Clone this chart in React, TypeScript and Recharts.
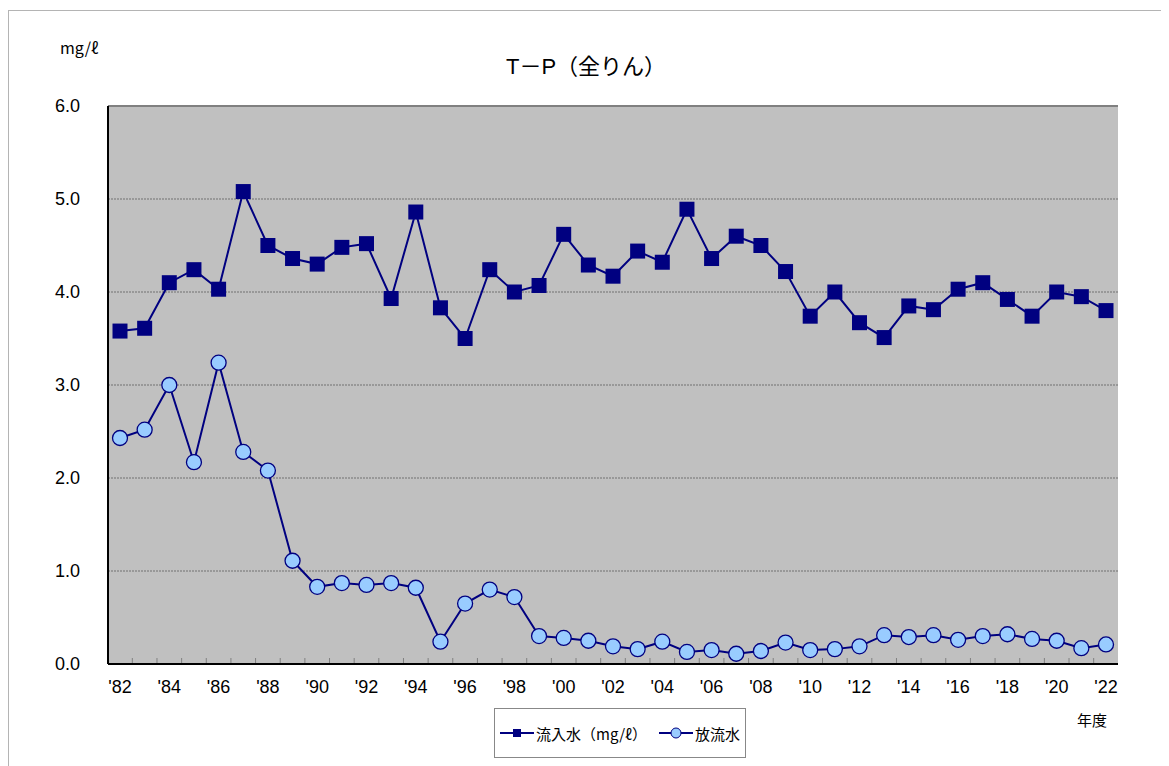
import React from 'react';
import {
  LineChart,
  Line,
  XAxis,
  YAxis,
  CartesianGrid,
  ReferenceLine,
  Legend,
} from 'recharts';

const YEARS = [
  1982, 1983, 1984, 1985, 1986, 1987, 1988, 1989, 1990, 1991, 1992, 1993, 1994,
  1995, 1996, 1997, 1998, 1999, 2000, 2001, 2002, 2003, 2004, 2005, 2006, 2007,
  2008, 2009, 2010, 2011, 2012, 2013, 2014, 2015, 2016, 2017, 2018, 2019, 2020,
  2021, 2022,
];

// 流入水
const INFLOW = [
  3.58, 3.61, 4.1, 4.24, 4.03, 5.08, 4.5, 4.36, 4.3, 4.48, 4.52, 3.93, 4.86,
  3.83, 3.5, 4.24, 4.0, 4.07, 4.62, 4.29, 4.17, 4.44, 4.32, 4.89, 4.36, 4.6,
  4.5, 4.22, 3.74, 4.0, 3.67, 3.51, 3.85, 3.81, 4.03, 4.1, 3.92, 3.74, 4.0,
  3.95, 3.8,
];

// 放流水
const OUTFLOW = [
  2.43, 2.52, 3.0, 2.17, 3.24, 2.28, 2.08, 1.11, 0.83, 0.87, 0.85, 0.87, 0.82,
  0.24, 0.65, 0.8, 0.72, 0.3, 0.28, 0.25, 0.19, 0.16, 0.24, 0.13, 0.15, 0.11,
  0.14, 0.23, 0.15, 0.16, 0.19, 0.31, 0.29, 0.31, 0.26, 0.3, 0.32, 0.27, 0.25,
  0.17, 0.21,
];

const Y_TICKS = [0, 1, 2, 3, 4, 5, 6];

const data = YEARS.map((y, i) => ({
  year: "'" + String(y).slice(2),
  inflow: INFLOW[i],
  outflow: OUTFLOW[i],
}));

const NAVY = '#000080';
const LIGHT = '#99CCFF';
const FONT = "'Liberation Sans', Arial, 'Noto Sans CJK JP', sans-serif";
const JFONT = "'Noto Sans CJK JP', sans-serif";

const W = 1161;
const H = 758;
const PLOT_L = 100;
const PLOT_R = 1110;
const PAD = 12;
const STEP = (PLOT_R - PLOT_L - 2 * PAD) / (YEARS.length - 1);
const LEGEND_H = 51;

const SquareDot = (props: any) => {
  const { cx, cy } = props;
  if (cx == null || cy == null) return null;
  return <rect x={cx - 7.5} y={cy - 7.5} width={15} height={15} fill={NAVY} />;
};

const CircleDot = (props: any) => {
  const { cx, cy } = props;
  if (cx == null || cy == null) return null;
  return <circle cx={cx} cy={cy} r={7.5} fill={LIGHT} stroke={NAVY} strokeWidth={1.3} />;
};

const XTick = (props: any) => {
  const { x, y, payload, index } = props;
  return (
    <g>
      {index < YEARS.length - 1 && (
        <line x1={x + STEP / 2} x2={x + STEP / 2} y1={y - 1} y2={y - 6} stroke="#808080" />
      )}
      {index % 2 === 0 && (
        <text x={x} y={y + 29} textAnchor="middle" fontSize={18} fill="#000" fontFamily={FONT}>
          {payload.value}
        </text>
      )}
    </g>
  );
};

const LegendBox = () => (
  <div
    style={{
      border: '1px solid #888',
      background: '#fff',
      height: 48,
      display: 'flex',
      alignItems: 'center',
      justifyContent: 'center',
      fontFamily: JFONT,
      fontSize: 15,
      color: '#000',
    }}
  >
    <svg width={34} height={14}>
      <line x1={0} x2={34} y1={7} y2={7} stroke={NAVY} strokeWidth={2} />
      <rect x={13} y={3} width={8} height={8} fill={NAVY} />
    </svg>
    <span style={{ marginLeft: 2, marginRight: 12 }}>流入水（mg/ℓ）</span>
    <svg width={34} height={14}>
      <line x1={0} x2={34} y1={7} y2={7} stroke={NAVY} strokeWidth={2} />
      <circle cx={17} cy={7} r={5} fill={LIGHT} stroke={NAVY} strokeWidth={1} />
    </svg>
    <span style={{ marginLeft: 2 }}>放流水</span>
  </div>
);

export default function App() {
  return (
    <div style={{ position: 'relative', width: W, height: H, fontFamily: FONT }}>
      <div
        style={{
          position: 'absolute',
          left: 0,
          top: 2,
          width: W + 20,
          height: H + 20,
          borderTop: '1px solid #B4B4B4',
          borderLeft: '1px solid #B4B4B4',
        }}
      />
      <div style={{ position: 'absolute', left: 52, top: 27, fontSize: 16, fontFamily: JFONT }}>
        mg/ℓ
      </div>
      <div
        style={{
          position: 'absolute',
          left: 428,
          width: 300,
          top: 46,
          textAlign: 'center',
          fontSize: 22,
          lineHeight: '26px',
          fontFamily: FONT,
        }}
      >
        T－P（全りん）
      </div>
      <div style={{ position: 'absolute', left: 1069, top: 703, fontSize: 15, lineHeight: '18px', fontFamily: JFONT }}>
        年度
      </div>
      <LineChart
        width={W}
        height={H}
        data={data}
        margin={{ top: 98, right: W - PLOT_R, bottom: 73 - LEGEND_H, left: PLOT_L - 60 }}
      >
        <CartesianGrid fill="#C0C0C0" vertical={false} stroke="#707070" strokeDasharray="2 1" />
        <XAxis
          dataKey="year"
          interval={0}
          tick={<XTick />}
          tickLine={false}
          tickSize={0}
          tickMargin={0}
          height={30}
          padding={{ left: PAD, right: PAD }}
          axisLine={{ stroke: '#000', strokeWidth: 2 }}
        />
        <YAxis
          domain={[0, 6]}
          ticks={Y_TICKS}
          width={60}
          tickLine={false}
          tickMargin={22}
          tickFormatter={(v: number) => v.toFixed(1)}
          tick={{ fontSize: 18, fill: '#000', fontFamily: FONT }}
          axisLine={{ stroke: '#000', strokeWidth: 2 }}
        />
        <YAxis
          yAxisId="r"
          orientation="right"
          domain={[0, 6]}
          width={0}
          tick={false}
          tickLine={false}
          axisLine={{ stroke: '#808080', strokeWidth: 2 }}
        />
        <ReferenceLine y={6} stroke="#808080" strokeWidth={2} />
        <Line
          dataKey="inflow"
          name="流入水（mg/ℓ）"
          stroke={NAVY}
          strokeWidth={2}
          dot={<SquareDot />}
          activeDot={false}
          isAnimationActive={false}
        />
        <Line
          dataKey="outflow"
          name="放流水"
          stroke={NAVY}
          strokeWidth={2}
          dot={<CircleDot />}
          activeDot={false}
          isAnimationActive={false}
        />
        <Legend
          content={<LegendBox />}
          wrapperStyle={{ position: 'absolute', left: 486, top: 700, width: 252, bottom: 'auto' }}
        />
      </LineChart>
    </div>
  );
}
